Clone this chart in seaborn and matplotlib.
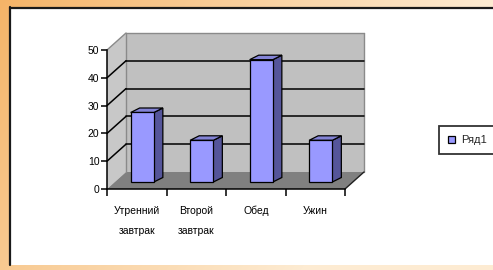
import numpy as np
import pandas as pd
import matplotlib
matplotlib.use("Agg")
import matplotlib.pyplot as plt
import seaborn as sns
from matplotlib.patches import Polygon, Rectangle, Patch
from matplotlib.lines import Line2D
from matplotlib.transforms import ScaledTranslation, IdentityTransform
from matplotlib.colors import to_rgb

# ---- data ----
categories = ["Утренний\nзавтрак", "Второй\nзавтрак", "Обед", "Ужин"]
values = [25, 15, 44, 15]
series_name = "Ряд1"
y_ticks = [0, 10, 20, 30, 40, 50]

sns.set_theme(style="white")
plt.rcParams["font.family"] = ["Liberation Sans", "DejaVu Sans"]

W, H = 493, 270
DPI = 100
fig = plt.figure(figsize=(W / DPI, H / DPI), dpi=DPI)

# ---- background (orange gradient frame + white panel) ----
bg = fig.add_axes([0, 0, 1, 1], zorder=-10)
xs = np.linspace(0, 1, W)[None, :, None]
ys = np.linspace(0, 1, H)[:, None, None]
c_or = np.array(to_rgb("#F4AE5C"))
c_lt = np.array(to_rgb("#FDEBD2"))
t = np.clip(0.1 + 0.9 * xs + 0.35 * ys, 0, 1)
img = c_or * (1 - t) + c_lt * t
bg.imshow(img, extent=(0, W, 0, H), aspect="auto", origin="upper")
bg.add_patch(Rectangle((9, 5), W, H - 12, facecolor="white", edgecolor="none"))
bg.plot([9.5, 9.5], [5, H - 7], color="#1a1a1a", lw=1.6)
bg.plot([9.5, W], [H - 7.5, H - 7.5], color="#1a1a1a", lw=1.6)
bg.set_xlim(0, W)
bg.set_ylim(0, H)
bg.axis("off")

# ---- main axes (front plane of the 3D chart) ----
ax = fig.add_axes([107 / W, (H - 189) / H, 238 / W, 139 / H], zorder=1)
ax.patch.set_visible(False)
df = pd.DataFrame({"meal": categories, "value": values})
sns.barplot(data=df, x="meal", y="value", color="#9999FF", saturation=1,
            width=0.39, edgecolor="black", linewidth=0.9, ax=ax, zorder=5)
bars = [p for p in ax.patches if isinstance(p, Rectangle)]
ax.set_xlim(-0.5, 3.5)
ax.set_ylim(0, 50)
ax.set_xlabel("")
ax.set_ylabel("")

for s in ["top", "right"]:
    ax.spines[s].set_visible(False)
for s in ["left", "bottom"]:
    ax.spines[s].set_color("black")
    ax.spines[s].set_linewidth(1.1)
    ax.spines[s].set_zorder(6)

ax.set_yticks(y_ticks)
ax.tick_params(axis="y", left=True, length=4.5, width=1.1, color="black",
               labelsize=7.5, pad=1, labelcolor="black")
ax.set_xticks(range(len(categories)))
ax.set_xticks(np.arange(-0.5, len(categories), 1.0), minor=True)
ax.tick_params(axis="x", which="major", bottom=True, length=0, pad=12,
               labelsize=7.5, labelcolor="black")
ax.tick_params(axis="x", which="minor", bottom=True, length=5, width=1.1,
               color="black")
for lab in ax.get_xticklabels() + ax.get_yticklabels():
    lab.set_fontweight("medium")
for lab in ax.get_xticklabels():
    lab.set_linespacing(2.3)

# ---- 3D walls, drawn in pixel space from the axes' own scales ----
BACK = np.array([19.0, 17.0])
def P(x, y):
    return ax.transData.transform((x, y))

x0, x1 = ax.get_xlim()
y0, y1 = ax.get_ylim()
FL0, FL1, FR0, FR1 = P(x0, y0), P(x0, y1), P(x1, y0), P(x1, y1)
BL0, BL1, BR0, BR1 = FL0 + BACK, FL1 + BACK, FR0 + BACK, FR1 + BACK
ident = IdentityTransform()

def poly(pts, fc, ec="none", lw=0.0, z=0.5):
    ax.add_patch(Polygon(pts, closed=True, facecolor=fc, edgecolor=ec,
                         linewidth=lw, transform=ident, clip_on=False, zorder=z))

def seg(a, b, color="black", lw=1.0, z=0.8):
    ax.add_line(Line2D([a[0], b[0]], [a[1], b[1]], color=color, lw=lw,
                       transform=ident, clip_on=False, zorder=z))

poly([BL0, BR0, BR1, BL1], "#C0C0C0")
poly([FL0, BL0, BL1, FL1], "#C8C8C8")
poly([FL0, FR0, BR0, BL0], "#808080")
seg(BL1, BR1, "#8a8a8a", 1.0)
seg(BR0, BR1, "#8a8a8a", 1.0)
seg(BL0, BL1, "#8a8a8a", 1.0)
seg(FL1, BL1, "#8a8a8a", 1.0)
for tv in y_ticks[1:-1]:
    fp = P(x0, tv)
    seg(fp, fp + BACK, "black", 1.1)
    seg(fp + BACK, P(x1, tv) + BACK, "black", 1.1)
seg(FR0, BR0, "#202020", 1.0)

# ---- 3D bars: shift the seaborn bars and add side/top faces ----
FRONT = np.array([5.5, 7.0])
DEPTH = np.array([9.0, 4.5])
shift = ScaledTranslation(FRONT[0] / DPI, FRONT[1] / DPI, fig.dpi_scale_trans)
for b in bars:
    b.set_transform(ax.transData + shift)
    b.set_clip_on(False)
    bx, bw, bh = b.get_x(), b.get_width(), b.get_height()
    a1 = P(bx + bw, 0) + FRONT
    t0 = P(bx, bh) + FRONT
    t1 = P(bx + bw, bh) + FRONT
    poly([a1, a1 + DEPTH, t1 + DEPTH, t1], "#55559A", "black", 0.9, 4.8)
    poly([t0, t1, t1 + DEPTH, t0 + DEPTH], "#8383D6", "black", 0.9, 4.9)

# ---- legend ----
handle = Patch(facecolor="#9999FF", edgecolor="black", linewidth=0.9, label=series_name)
leg = ax.legend(handles=[handle], loc="center left",
                bbox_to_anchor=(439 / W, (H - 140) / H),
                bbox_transform=fig.transFigure, frameon=True, fancybox=False,
                fontsize=8, handlelength=0.6, handleheight=0.6,
                borderpad=0.85, handletextpad=0.5, borderaxespad=0)
leg.get_frame().set_edgecolor("black")
leg.get_frame().set_linewidth(1.3)
leg.get_frame().set_facecolor("white")
leg.set_zorder(10)

fig.savefig("out.png", dpi=DPI)
